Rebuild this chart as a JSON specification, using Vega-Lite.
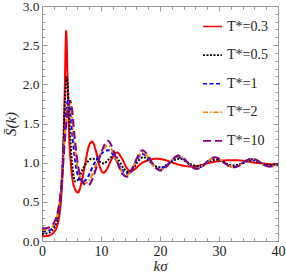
{
  "$schema": "https://vega.github.io/schema/vega-lite/v6.json",
  "autosize": "none",
  "width": 236,
  "height": 235,
  "padding": {"left": 42, "top": 6, "right": 8, "bottom": 32},
  "config": {
    "view": {"stroke": "#9a9a9a", "strokeWidth": 1},
    "axis": {
      "domain": false,
      "grid": false,
      "labelFont": "Times New Roman",
      "labelFontSize": 14,
      "labelColor": "#222",
      "tickColor": "#9a9a9a",
      "titleFont": "Times New Roman",
      "titleFontSize": 15,
      "titleFontWeight": "normal",
      "titleFontStyle": "italic",
      "titleColor": "#222"
    },
    "legend": {"labelFont": "Times New Roman"}
  },
  "data": {"values": [
    {"k":0,"S":0.06,"T":"0.3"},{"k":1,"S":0.065,"T":"0.3"},{"k":1.5,"S":0.08,"T":"0.3"},{"k":2,"S":0.11,"T":"0.3"},{"k":2.5,"S":0.18,"T":"0.3"},{"k":3,"S":0.36,"T":"0.3"},{"k":3.3,"S":0.6,"T":"0.3"},{"k":3.6,"S":1.1,"T":"0.3"},{"k":3.85,"S":1.9,"T":"0.3"},{"k":4.1,"S":2.68,"T":"0.3"},{"k":4.35,"S":2.0,"T":"0.3"},{"k":4.6,"S":1.35,"T":"0.3"},{"k":5.0,"S":0.9,"T":"0.3"},{"k":5.5,"S":0.68,"T":"0.3"},{"k":6.1,"S":0.62,"T":"0.3"},{"k":6.7,"S":0.75,"T":"0.3"},{"k":7.3,"S":0.98,"T":"0.3"},{"k":7.9,"S":1.2,"T":"0.3"},{"k":8.5,"S":1.27,"T":"0.3"},{"k":9.1,"S":1.16,"T":"0.3"},{"k":9.7,"S":0.97,"T":"0.3"},{"k":10.4,"S":0.87,"T":"0.3"},{"k":11.1,"S":0.93,"T":"0.3"},{"k":11.9,"S":1.06,"T":"0.3"},{"k":12.7,"S":1.13,"T":"0.3"},{"k":13.5,"S":1.06,"T":"0.3"},{"k":14.3,"S":0.94,"T":"0.3"},{"k":15.0,"S":0.89,"T":"0.3"},{"k":15.8,"S":0.92,"T":"0.3"},{"k":16.8,"S":0.99,"T":"0.3"},{"k":18,"S":1.03,"T":"0.3"},{"k":19.5,"S":1.05,"T":"0.3"},{"k":21,"S":1.03,"T":"0.3"},{"k":22.5,"S":0.99,"T":"0.3"},{"k":24,"S":0.96,"T":"0.3"},{"k":25.5,"S":0.95,"T":"0.3"},{"k":27,"S":0.97,"T":"0.3"},{"k":28.5,"S":1.0,"T":"0.3"},{"k":30,"S":1.02,"T":"0.3"},{"k":31.5,"S":1.03,"T":"0.3"},{"k":33,"S":1.03,"T":"0.3"},{"k":34.5,"S":1.02,"T":"0.3"},{"k":36,"S":1.0,"T":"0.3"},{"k":37.5,"S":0.99,"T":"0.3"},{"k":39,"S":0.98,"T":"0.3"},{"k":40,"S":0.98,"T":"0.3"},

    {"k":0,"S":0.09,"T":"0.5"},{"k":1,"S":0.1,"T":"0.5"},{"k":1.5,"S":0.12,"T":"0.5"},{"k":2,"S":0.16,"T":"0.5"},{"k":2.5,"S":0.25,"T":"0.5"},{"k":3,"S":0.45,"T":"0.5"},{"k":3.3,"S":0.7,"T":"0.5"},{"k":3.6,"S":1.2,"T":"0.5"},{"k":3.9,"S":1.8,"T":"0.5"},{"k":4.2,"S":2.09,"T":"0.5"},{"k":4.5,"S":1.8,"T":"0.5"},{"k":4.8,"S":1.3,"T":"0.5"},{"k":5.2,"S":0.92,"T":"0.5"},{"k":5.6,"S":0.76,"T":"0.5"},{"k":6.1,"S":0.78,"T":"0.5"},{"k":6.8,"S":0.9,"T":"0.5"},{"k":7.6,"S":1.0,"T":"0.5"},{"k":8.4,"S":1.05,"T":"0.5"},{"k":9.0,"S":1.05,"T":"0.5"},{"k":9.8,"S":1.01,"T":"0.5"},{"k":10.5,"S":0.99,"T":"0.5"},{"k":11.3,"S":1.04,"T":"0.5"},{"k":12.2,"S":1.09,"T":"0.5"},{"k":13.0,"S":1.03,"T":"0.5"},{"k":13.8,"S":0.93,"T":"0.5"},{"k":14.6,"S":0.88,"T":"0.5"},{"k":15.5,"S":0.93,"T":"0.5"},{"k":16.4,"S":1.03,"T":"0.5"},{"k":17.2,"S":1.07,"T":"0.5"},{"k":18.2,"S":1.02,"T":"0.5"},{"k":19.2,"S":0.96,"T":"0.5"},{"k":20.2,"S":0.94,"T":"0.5"},{"k":21.3,"S":0.98,"T":"0.5"},{"k":22.3,"S":1.03,"T":"0.5"},{"k":23.4,"S":1.05,"T":"0.5"},{"k":24.5,"S":1.01,"T":"0.5"},{"k":25.5,"S":0.97,"T":"0.5"},{"k":26.4,"S":0.955,"T":"0.5"},{"k":27.5,"S":0.98,"T":"0.5"},{"k":28.5,"S":1.02,"T":"0.5"},{"k":29.5,"S":1.04,"T":"0.5"},{"k":30.5,"S":1.02,"T":"0.5"},{"k":31.5,"S":0.98,"T":"0.5"},{"k":32.5,"S":0.965,"T":"0.5"},{"k":33.6,"S":0.98,"T":"0.5"},{"k":34.6,"S":1.01,"T":"0.5"},{"k":35.6,"S":1.03,"T":"0.5"},{"k":36.6,"S":1.01,"T":"0.5"},{"k":37.6,"S":0.98,"T":"0.5"},{"k":38.6,"S":0.97,"T":"0.5"},{"k":40,"S":0.985,"T":"0.5"},

    {"k":0,"S":0.12,"T":"1"},{"k":1,"S":0.13,"T":"1"},{"k":1.5,"S":0.15,"T":"1"},{"k":2,"S":0.19,"T":"1"},{"k":2.5,"S":0.28,"T":"1"},{"k":3,"S":0.48,"T":"1"},{"k":3.3,"S":0.72,"T":"1"},{"k":3.6,"S":1.1,"T":"1"},{"k":3.9,"S":1.45,"T":"1"},{"k":4.2,"S":1.72,"T":"1"},{"k":4.5,"S":1.81,"T":"1"},{"k":4.8,"S":1.65,"T":"1"},{"k":5.2,"S":1.3,"T":"1"},{"k":5.7,"S":0.98,"T":"1"},{"k":6.3,"S":0.8,"T":"1"},{"k":7.0,"S":0.76,"T":"1"},{"k":7.8,"S":0.82,"T":"1"},{"k":8.6,"S":0.95,"T":"1"},{"k":9.4,"S":1.06,"T":"1"},{"k":10.3,"S":1.13,"T":"1"},{"k":11.2,"S":1.16,"T":"1"},{"k":12.0,"S":1.11,"T":"1"},{"k":12.8,"S":1.0,"T":"1"},{"k":13.6,"S":0.9,"T":"1"},{"k":14.4,"S":0.86,"T":"1"},{"k":15.2,"S":0.92,"T":"1"},{"k":16.1,"S":1.04,"T":"1"},{"k":17.0,"S":1.11,"T":"1"},{"k":17.9,"S":1.07,"T":"1"},{"k":18.8,"S":0.97,"T":"1"},{"k":19.9,"S":0.92,"T":"1"},{"k":20.9,"S":0.95,"T":"1"},{"k":22.0,"S":1.03,"T":"1"},{"k":23.1,"S":1.07,"T":"1"},{"k":24.1,"S":1.04,"T":"1"},{"k":25.2,"S":0.96,"T":"1"},{"k":26.2,"S":0.93,"T":"1"},{"k":27.2,"S":0.96,"T":"1"},{"k":28.3,"S":1.03,"T":"1"},{"k":29.3,"S":1.06,"T":"1"},{"k":30.3,"S":1.03,"T":"1"},{"k":31.4,"S":0.97,"T":"1"},{"k":32.4,"S":0.945,"T":"1"},{"k":33.4,"S":0.97,"T":"1"},{"k":34.5,"S":1.02,"T":"1"},{"k":35.5,"S":1.045,"T":"1"},{"k":36.5,"S":1.02,"T":"1"},{"k":37.6,"S":0.975,"T":"1"},{"k":38.6,"S":0.955,"T":"1"},{"k":40,"S":0.98,"T":"1"},

    {"k":0,"S":0.14,"T":"2"},{"k":1,"S":0.15,"T":"2"},{"k":1.5,"S":0.17,"T":"2"},{"k":2,"S":0.21,"T":"2"},{"k":2.5,"S":0.3,"T":"2"},{"k":3,"S":0.5,"T":"2"},{"k":3.3,"S":0.72,"T":"2"},{"k":3.6,"S":1.05,"T":"2"},{"k":3.9,"S":1.38,"T":"2"},{"k":4.3,"S":1.68,"T":"2"},{"k":4.7,"S":1.78,"T":"2"},{"k":5.0,"S":1.65,"T":"2"},{"k":5.4,"S":1.32,"T":"2"},{"k":5.9,"S":1.0,"T":"2"},{"k":6.5,"S":0.81,"T":"2"},{"k":7.2,"S":0.74,"T":"2"},{"k":7.6,"S":0.745,"T":"2"},{"k":8.4,"S":0.83,"T":"2"},{"k":9.2,"S":0.98,"T":"2"},{"k":10.2,"S":1.15,"T":"2"},{"k":11.2,"S":1.22,"T":"2"},{"k":12.0,"S":1.14,"T":"2"},{"k":12.8,"S":1.0,"T":"2"},{"k":13.6,"S":0.88,"T":"2"},{"k":14.4,"S":0.84,"T":"2"},{"k":15.2,"S":0.91,"T":"2"},{"k":16.1,"S":1.05,"T":"2"},{"k":17.0,"S":1.13,"T":"2"},{"k":17.9,"S":1.08,"T":"2"},{"k":18.8,"S":0.97,"T":"2"},{"k":20.0,"S":0.91,"T":"2"},{"k":21.0,"S":0.94,"T":"2"},{"k":22.0,"S":1.03,"T":"2"},{"k":23.1,"S":1.08,"T":"2"},{"k":24.1,"S":1.05,"T":"2"},{"k":25.2,"S":0.96,"T":"2"},{"k":26.2,"S":0.925,"T":"2"},{"k":27.2,"S":0.96,"T":"2"},{"k":28.3,"S":1.03,"T":"2"},{"k":29.3,"S":1.065,"T":"2"},{"k":30.3,"S":1.035,"T":"2"},{"k":31.4,"S":0.97,"T":"2"},{"k":32.4,"S":0.94,"T":"2"},{"k":33.4,"S":0.965,"T":"2"},{"k":34.5,"S":1.02,"T":"2"},{"k":35.5,"S":1.05,"T":"2"},{"k":36.5,"S":1.025,"T":"2"},{"k":37.6,"S":0.97,"T":"2"},{"k":38.6,"S":0.95,"T":"2"},{"k":40,"S":0.975,"T":"2"},

    {"k":0,"S":0.16,"T":"10"},{"k":1,"S":0.17,"T":"10"},{"k":1.5,"S":0.19,"T":"10"},{"k":2,"S":0.23,"T":"10"},{"k":2.5,"S":0.32,"T":"10"},{"k":3,"S":0.52,"T":"10"},{"k":3.3,"S":0.72,"T":"10"},{"k":3.6,"S":1.0,"T":"10"},{"k":4.0,"S":1.4,"T":"10"},{"k":4.4,"S":1.7,"T":"10"},{"k":4.8,"S":1.79,"T":"10"},{"k":5.1,"S":1.68,"T":"10"},{"k":5.5,"S":1.35,"T":"10"},{"k":6.0,"S":1.02,"T":"10"},{"k":6.6,"S":0.8,"T":"10"},{"k":7.3,"S":0.72,"T":"10"},{"k":7.85,"S":0.71,"T":"10"},{"k":8.6,"S":0.8,"T":"10"},{"k":9.4,"S":0.98,"T":"10"},{"k":10.3,"S":1.18,"T":"10"},{"k":11.1,"S":1.28,"T":"10"},{"k":11.9,"S":1.2,"T":"10"},{"k":12.7,"S":1.02,"T":"10"},{"k":13.6,"S":0.86,"T":"10"},{"k":14.4,"S":0.82,"T":"10"},{"k":15.2,"S":0.9,"T":"10"},{"k":16.1,"S":1.06,"T":"10"},{"k":17.0,"S":1.16,"T":"10"},{"k":17.9,"S":1.1,"T":"10"},{"k":18.9,"S":0.97,"T":"10"},{"k":20.0,"S":0.9,"T":"10"},{"k":21.0,"S":0.94,"T":"10"},{"k":22.0,"S":1.03,"T":"10"},{"k":23.1,"S":1.09,"T":"10"},{"k":24.1,"S":1.05,"T":"10"},{"k":25.2,"S":0.96,"T":"10"},{"k":26.2,"S":0.92,"T":"10"},{"k":27.2,"S":0.955,"T":"10"},{"k":28.3,"S":1.03,"T":"10"},{"k":29.3,"S":1.07,"T":"10"},{"k":30.3,"S":1.04,"T":"10"},{"k":31.4,"S":0.97,"T":"10"},{"k":32.4,"S":0.94,"T":"10"},{"k":33.4,"S":0.96,"T":"10"},{"k":34.5,"S":1.02,"T":"10"},{"k":35.5,"S":1.05,"T":"10"},{"k":36.5,"S":1.03,"T":"10"},{"k":37.6,"S":0.97,"T":"10"},{"k":38.6,"S":0.95,"T":"10"},{"k":40,"S":0.97,"T":"10"}
  ]},
  "resolve": {"axis": {"x": "independent", "y": "independent"}},
  "layer": [
    {
      "mark": {"type": "line", "interpolate": "monotone", "strokeWidth": 2, "clip": true},
      "encoding": {
        "x": {"field": "k", "type": "quantitative",
          "scale": {"domain": [0, 40], "nice": false, "zero": false},
          "axis": {"orient": "bottom", "title": "kσ",
            "values": [0,2,4,6,8,10,12,14,16,18,20,22,24,26,28,30,32,34,36,38,40],
            "labelExpr": "datum.value % 10 === 0 ? datum.label : ''",
            "tickSize": {"condition": {"test": "datum.value % 10 === 0", "value": -5}, "value": -3},
            "labelPadding": 8, "titlePadding": 0, "labelFlush": false}},
        "y": {"field": "S", "type": "quantitative",
          "scale": {"domain": [0, 3], "nice": false},
          "axis": {"orient": "left", "title": "S̄(k)", "format": ".1f",
            "values": [0,0.1,0.2,0.3,0.4,0.5,0.6,0.7,0.8,0.9,1,1.1,1.2,1.3,1.4,1.5,1.6,1.7,1.8,1.9,2,2.1,2.2,2.3,2.4,2.5,2.6,2.7,2.8,2.9,3],
            "labelExpr": "abs(datum.value*2 - round(datum.value*2)) < 0.001 ? datum.label : ''",
            "tickSize": {"condition": {"test": "abs(datum.value*2 - round(datum.value*2)) < 0.001", "value": -5}, "value": -3},
            "labelPadding": 8, "titlePadding": 4, "labelFlush": false, "labelFontSize": 13.5}},
        "color": {"field": "T", "type": "nominal",
          "scale": {"domain": ["0.3", "0.5", "1", "2", "10"], "range": ["#ff0000", "#000000", "#0000ff", "#ff8000", "#800080"]},
          "legend": {"orient": "top-right", "title": null, "symbolType": "stroke", "symbolSize": 361, "symbolStrokeWidth": 1.6,
            "labelExpr": "'T*=' + datum.label", "labelFont": "Times New Roman", "labelFontSize": 14, "labelColor": "#222",
            "rowPadding": 10.6, "offset": 10, "padding": 0}},
        "strokeDash": {"field": "T", "type": "nominal",
          "scale": {"domain": ["0.3", "0.5", "1", "2", "10"], "range": [[1, 0], [2, 1.5], [4, 2.5], [5, 2, 1.5, 2], [8, 4]]}}
      }
    },
    {
      "mark": {"type": "line", "opacity": 0},
      "encoding": {
        "x": {"field": "k", "type": "quantitative",
          "axis": {"orient": "top", "title": null, "labels": false,
            "values": [0,2,4,6,8,10,12,14,16,18,20,22,24,26,28,30,32,34,36,38,40],
            "tickSize": {"condition": {"test": "datum.value % 10 === 0", "value": -5}, "value": -3}}},
        "y": {"field": "S", "type": "quantitative",
          "axis": {"orient": "right", "title": null, "labels": false,
            "values": [0,0.1,0.2,0.3,0.4,0.5,0.6,0.7,0.8,0.9,1,1.1,1.2,1.3,1.4,1.5,1.6,1.7,1.8,1.9,2,2.1,2.2,2.3,2.4,2.5,2.6,2.7,2.8,2.9,3],
            "tickSize": {"condition": {"test": "abs(datum.value*2 - round(datum.value*2)) < 0.001", "value": -5}, "value": -3}}}
      }
    }
  ]
}
